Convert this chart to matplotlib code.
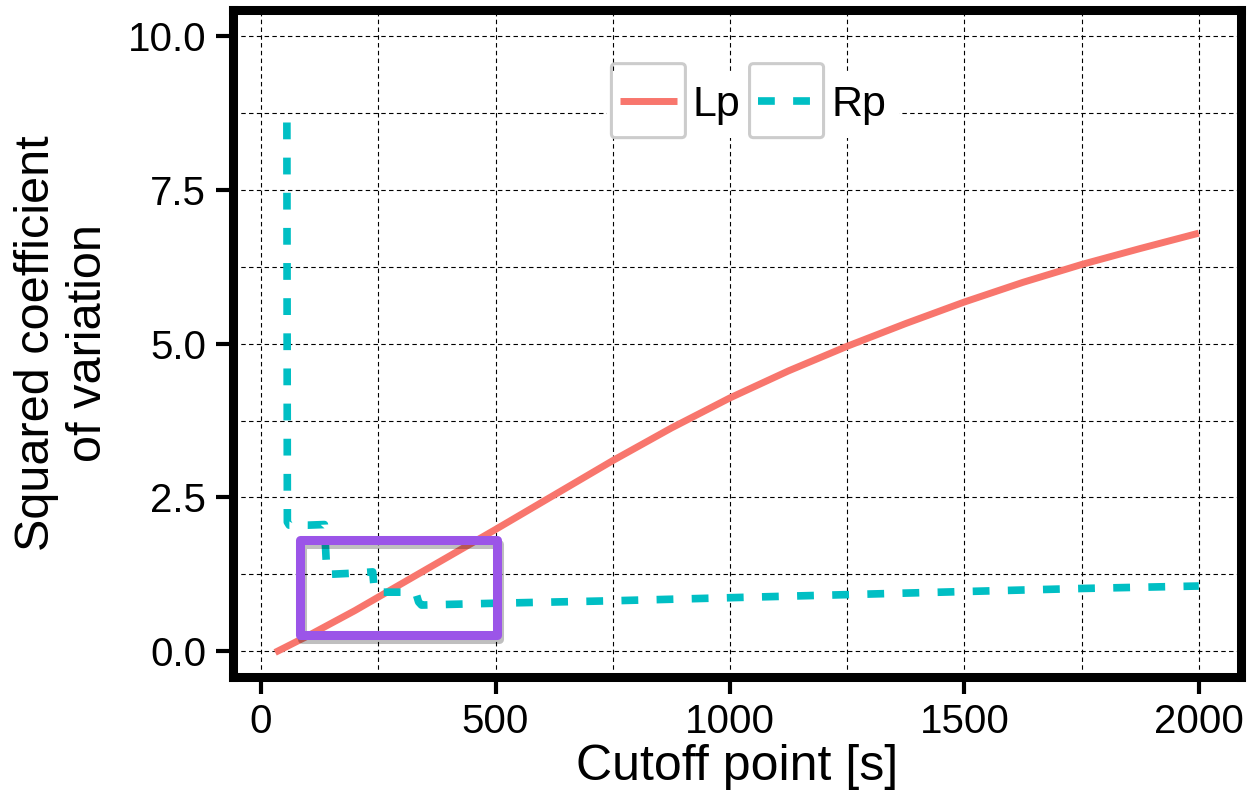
import matplotlib
matplotlib.use("Agg")
import matplotlib.pyplot as plt
import matplotlib.patheffects as pe
from matplotlib.patches import Rectangle, FancyBboxPatch
from matplotlib.ticker import MultipleLocator, FormatStrFormatter
from matplotlib.transforms import IdentityTransform

plt.rcParams['font.family'] = ['Liberation Sans', 'DejaVu Sans']

# values
lp_x = [30, 100, 200, 300, 400, 500, 625, 750, 875, 1000,
        1125, 1250, 1375, 1500, 1625, 1750, 1875, 2000]
lp_y = [-0.02, 0.25, 0.66, 1.1, 1.54, 1.98, 2.54, 3.1, 3.63, 4.12,
        4.56, 4.96, 5.33, 5.68, 6.0, 6.29, 6.55, 6.8]

rp_x = [55, 56, 60, 100, 135, 140, 145, 200, 238, 242, 300, 330, 336, 342,
        500, 750, 1000, 1250, 1500, 1750, 2000]
rp_y = [8.6, 2.1, 2.05, 2.05, 2.06, 1.3, 1.25, 1.27, 1.29, 0.96, 0.96, 0.95, 0.8, 0.75,
        0.78, 0.82, 0.87, 0.92, 0.97, 1.02, 1.06]

series_names = ["Lp", "Rp"]
x_ticks = [0, 500, 1000, 1500, 2000]
y_ticks = [0.0, 2.5, 5.0, 7.5, 10.0]

# highlighted region
box_x = [83, 503]
box_y = [0.26, 1.81]

fig = plt.figure(figsize=(12.47, 8), dpi=100)
ax = fig.add_axes([232.5/1247, 1-677/800, (1241-232.5)/1247, (677-10)/800])

ax.plot(lp_x, lp_y, color="#F8766D", lw=5, solid_capstyle="butt", solid_joinstyle="round",
        label=series_names[0], zorder=3)
ax.plot(rp_x, rp_y, color="#00BFC4", lw=5.5, ls=(0, (2.2, 2.4)), dash_capstyle="butt",
        label=series_names[1], zorder=3)

rect = Rectangle((box_x[0], box_y[0]), box_x[1]-box_x[0], box_y[1]-box_y[0],
                 fill=False, edgecolor="#9B55E8", lw=6.5, joinstyle="round", zorder=4)
rect.set_path_effects([pe.SimpleLineShadow(offset=(1.5, -3), shadow_color="black", alpha=0.25),
                       pe.Normal()])
ax.add_patch(rect)

ax.set_xlim(-61, 2090)
ax.set_ylim(-0.42, 10.43)
ax.set_xticks(x_ticks)
ax.set_yticks(y_ticks)
ax.yaxis.set_major_formatter(FormatStrFormatter('%.1f'))
ax.xaxis.set_minor_locator(MultipleLocator(250))
ax.yaxis.set_minor_locator(MultipleLocator(1.25))
ax.grid(True, which="both", color="black", lw=0.8, ls=(0, (4, 3)), zorder=0)
ax.set_axisbelow(True)

for s in ax.spines.values():
    s.set_linewidth(6.5)
ax.tick_params(which="major", direction="out", length=12, width=3, labelsize=29, pad=7)
ax.tick_params(which="minor", direction="in", length=3, width=0.8)

ax.set_xlabel("Cutoff point [s]", fontsize=36, labelpad=2)
ax.set_ylabel("Squared coefficient\nof variation", fontsize=35, labelpad=12)

leg = ax.legend(loc="center", bbox_to_anchor=(0.516, 0.858), ncol=2, fontsize=31,
                frameon=True, facecolor="white", edgecolor="none", framealpha=1,
                handlelength=1.33, handletextpad=0.37, columnspacing=0.4, borderpad=0.3)
leg.set_zorder(5)

# each legend key sits in its own light grey box
fig.canvas.draw()
renderer = fig.canvas.get_renderer()
for h in leg.legend_handles:
    bb = h.get_window_extent(renderer)
    cx = (bb.x0 + bb.x1) / 2
    cy = (bb.y0 + bb.y1) / 2
    key_box = FancyBboxPatch((cx - 37, cy - 37), 74, 74, boxstyle="round,pad=0,rounding_size=4",
                             fill=False, edgecolor="#CCCCCC", lw=2.2,
                             transform=IdentityTransform(), zorder=6)
    fig.add_artist(key_box)

fig.savefig("out.png", dpi=100)
